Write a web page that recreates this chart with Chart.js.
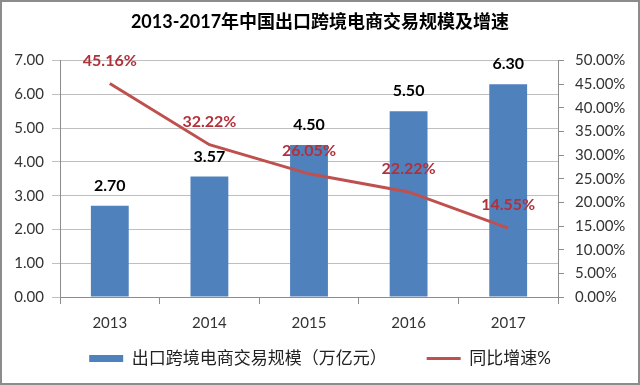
<!DOCTYPE html>
<html>
<head>
<meta charset="utf-8">
<script src="https://cdn.jsdelivr.net/npm/chart.js@4/dist/chart.umd.min.js"></script>
<style>
	body { margin: 0; background: #fff; }
	#wrap { width: 640px; height: 385px; position: relative; }
</style>
</head>
<body>
<div id="wrap"><canvas id="trade"></canvas></div>
<script>
var years = ['2013', '2014', '2015', '2016', '2017'];
var scale = [2.70, 3.57, 4.50, 5.50, 6.30];
var growth = [45.16, 32.22, 26.05, 22.22, 14.55];
var leftTicks = [0, 1, 2, 3, 4, 5, 6, 7];
var rightTicks = [0, 5, 10, 15, 20, 25, 30, 35, 40, 45, 50];

var FONT = "Lato, 'Noto Sans CJK SC', sans-serif";

// white background + grey frame
var framePlugin = {
	id: 'frame',
	beforeDraw: function (chart) {
		var c = chart.ctx;
		c.save();
		c.fillStyle = '#fff';
		c.fillRect(0, 0, chart.width, chart.height);
		c.restore();
	},
	afterDraw: function (chart) {
		var c = chart.ctx;
		c.save();
		c.strokeStyle = '#8c8c8c';
		c.lineWidth = 2;
		c.strokeRect(1, 1, chart.width - 2, chart.height - 2);
		c.restore();
	}
};

// value labels above bars and line points
var labelPlugin = {
	id: 'valueLabels',
	afterDatasetsDraw: function (chart) {
		var c = chart.ctx;
		c.save();
		c.textAlign = 'center';
		c.textBaseline = 'middle';
		chart.data.datasets.forEach(function (ds, i) {
			var meta = chart.getDatasetMeta(i);
			meta.data.forEach(function (el, j) {
				if (ds.type === 'line') {
					c.fillStyle = '#B3303A';
					c.font = 'bold 16px ' + FONT;
					c.fillText(ds.data[j].toFixed(2) + '%', el.x, el.y - 23);
				} else {
					c.fillStyle = '#000';
					c.font = 'bold 16px ' + FONT;
					c.fillText(ds.data[j].toFixed(2), el.x, el.y - 20);
				}
			});
		});
		c.restore();
	}
};

var ctx = document.getElementById('trade').getContext('2d');
window.TradeChart = new Chart(ctx, {
	data: {
		labels: years,
		datasets: [{
			type: 'line',
			label: '同比增速%',
			data: growth,
			yAxisID: 'y1',
			borderColor: '#C0504D',
			backgroundColor: '#C0504D',
			borderWidth: 3,
			pointRadius: 0,
			tension: 0,
			order: 0
		}, {
			type: 'bar',
			label: '出口跨境电商交易规模（万亿元）',
			data: scale,
			yAxisID: 'y',
			backgroundColor: '#4F81BD',
			borderWidth: 0,
			barPercentage: 0.38,
			categoryPercentage: 1,
			order: 1
		}]
	},
	plugins: [framePlugin, labelPlugin],
	options: {
		responsive: true,
		maintainAspectRatio: false,
		animation: false,
		layout: { padding: { left: 0, right: 0, top: 0, bottom: 8 } },
		plugins: {
			title: {
				display: true,
				text: '2013-2017年中国出口跨境电商交易规模及增速',
				color: '#000',
				font: { family: FONT, size: 18, weight: 'bold' },
				padding: { top: 11, bottom: 28 }
			},
			legend: {
				position: 'bottom',
				reverse: true,
				labels: {
					color: '#222',
					font: { family: FONT, size: 17 },
					usePointStyle: true,
					pointStyleWidth: 34,
					boxHeight: 7,
					padding: 40,
					generateLabels: function (chart) {
						var items = Chart.defaults.plugins.legend.labels.generateLabels(chart);
						items.forEach(function (it) {
							if (it.datasetIndex === 0) {
								it.pointStyle = 'line';
								it.lineWidth = 3;
								it.strokeStyle = '#C0504D';
							} else {
								it.pointStyle = 'rect';
								it.lineWidth = 0;
								it.fillStyle = '#4F81BD';
							}
						});
						return items;
					}
				}
			},
			tooltip: { enabled: false }
		},
		scales: {
			x: {
				offset: true,
				grid: { offset: true, drawOnChartArea: false, color: '#8c8c8c', tickLength: 7 },
				border: { color: '#8c8c8c' },
				ticks: { color: '#333', font: { family: FONT, size: 15 }, padding: 10 },
				afterFit: function (s) {
					// thin box so the legend sits close; labels may hang below it
					s.height = 13;
					s._computeLabelArea = function () { return undefined; };
				}
			},
			y: {
				position: 'left',
				min: 0,
				max: 7,
				afterBuildTicks: function (s) { s.ticks = leftTicks.map(function (v) { return { value: v }; }); },
				grid: { color: '#bfbfbf', tickLength: 8 },
				border: { color: '#8c8c8c' },
				ticks: {
					color: '#333',
					font: { family: FONT, size: 15 },
					padding: 8,
					callback: function (v) { return Number(v).toFixed(2); }
				},
				afterFit: function (s) { s.width = 60; }
			},
			y1: {
				position: 'right',
				min: 0,
				max: 50,
				afterBuildTicks: function (s) { s.ticks = rightTicks.map(function (v) { return { value: v }; }); },
				grid: { drawOnChartArea: false, color: '#8c8c8c', tickLength: 6 },
				border: { color: '#8c8c8c' },
				ticks: {
					color: '#333',
					font: { family: FONT, size: 15 },
					padding: 11,
					callback: function (v) { return Number(v).toFixed(2) + '%'; }
				},
				afterFit: function (s) { s.width = 82; }
			}
		}
	}
});
</script>
</body>
</html>
